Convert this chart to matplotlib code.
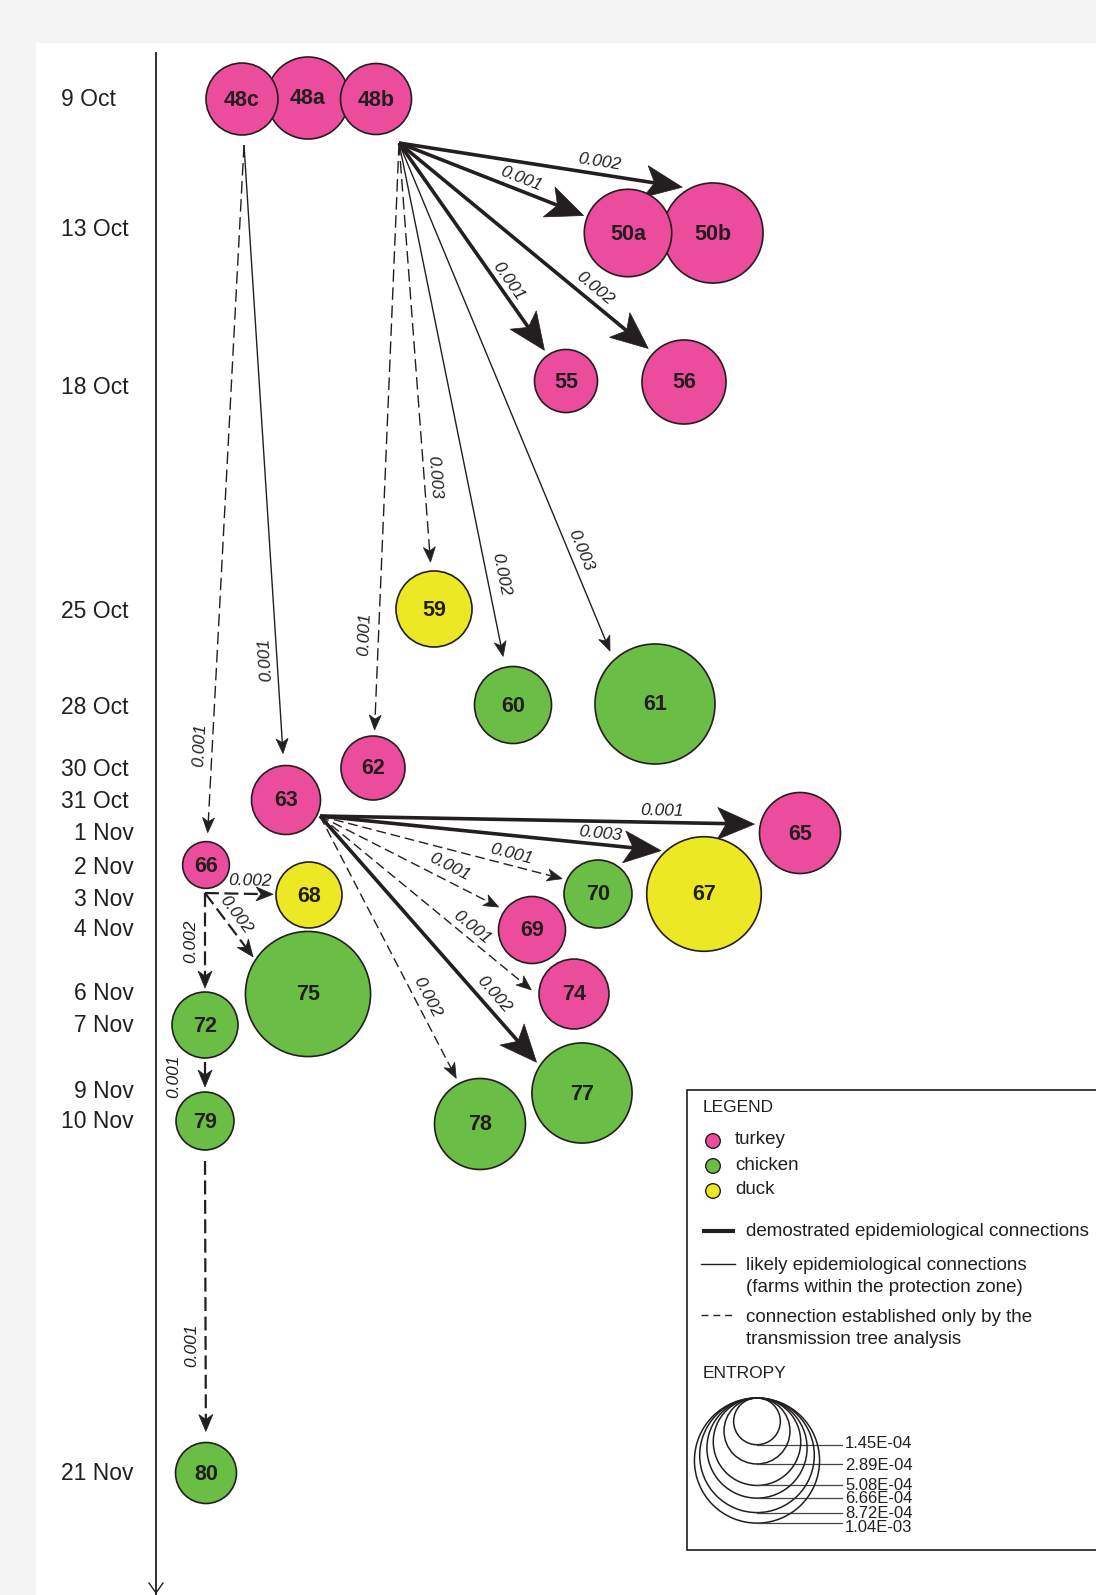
import numpy as np
import matplotlib
matplotlib.use("Agg")
import matplotlib.pyplot as plt
from matplotlib.patches import Circle, Polygon, Rectangle
from matplotlib import font_manager

plt.rcParams['font.family'] = ['Liberation Sans', 'DejaVu Sans']
plt.rcParams['lines.scale_dashes'] = False

W, H = 1096, 1595
INK = '#231f20'

# ---- data -------------------------------------------------------------
dates = ["9 Oct", "13 Oct", "18 Oct", "25 Oct", "28 Oct", "30 Oct", "31 Oct",
         "1 Nov", "2 Nov", "3 Nov", "4 Nov", "6 Nov", "7 Nov", "9 Nov",
         "10 Nov", "21 Nov"]

farms = ["48c", "48a", "48b", "50a", "50b", "55", "56", "59", "60", "61",
         "62", "63", "65", "66", "67", "68", "69", "70", "72", "74", "75",
         "77", "78", "79", "80"]
species = ["turkey", "turkey", "turkey", "turkey", "turkey", "turkey", "turkey",
           "duck", "chicken", "chicken", "turkey", "turkey", "turkey", "turkey",
           "duck", "duck", "turkey", "chicken", "chicken", "turkey", "chicken",
           "chicken", "chicken", "chicken", "chicken"]
entropy = [3.44e-4, 4.47e-4, 3.35e-4, 5.08e-4, 6.66e-4, 2.64e-4, 4.69e-4,
           3.84e-4, 3.94e-4, 9.57e-4, 2.72e-4, 3.16e-4, 4.36e-4, 1.45e-4,
           8.72e-4, 2.89e-4, 2.98e-4, 3.07e-4, 2.89e-4, 3.25e-4, 1.04e-3,
           6.66e-4, 5.50e-4, 2.23e-4, 2.47e-4]

# (from, to, rate, connection type)
edges = [
    ("48b", "50b", "0.002", "demonstrated"),
    ("48b", "50a", "0.001", "demonstrated"),
    ("48b", "55", "0.001", "demonstrated"),
    ("48b", "56", "0.002", "demonstrated"),
    ("48b", "59", "0.003", "tree"),
    ("48b", "60", "0.002", "likely"),
    ("48b", "61", "0.003", "likely"),
    ("48b", "62", "0.001", "tree"),
    ("48c", "63", "0.001", "likely"),
    ("48c", "66", "0.001", "tree"),
    ("63", "65", "0.001", "demonstrated"),
    ("63", "67", "0.003", "demonstrated"),
    ("63", "70", "0.001", "tree"),
    ("63", "69", "0.001", "tree"),
    ("63", "74", "0.001", "tree"),
    ("63", "77", "0.002", "demonstrated"),
    ("63", "78", "0.002", "tree"),
    ("66", "68", "0.002", "tree"),
    ("66", "75", "0.002", "tree"),
    ("66", "72", "0.002", "tree"),
    ("72", "79", "0.001", "tree"),
    ("79", "80", "0.001", "tree"),
]

entropy_scale = [1.45e-4, 2.89e-4, 5.08e-4, 6.66e-4, 8.72e-4, 1.04e-3]
species_names = ["turkey", "chicken", "duck"]

# ---- layout (pixels, y downwards) --------------------------------------
date_y = [100, 229, 388, 612, 707, 770, 802, 834, 867, 899, 930, 994, 1026,
          1091, 1122, 1474]
date_x = [61, 61, 61, 61, 61, 61, 61, 74, 74, 74, 74, 74, 74, 74, 61, 61]

node_xy = {
    "48c": (242, 99), "48a": (308, 98), "48b": (376, 99),
    "50a": (628, 233), "50b": (713, 233), "55": (566, 381), "56": (684, 382),
    "59": (434, 609), "60": (513, 705), "61": (655, 704), "62": (373, 768),
    "63": (286, 800), "65": (800, 833), "66": (206, 865), "67": (704, 894),
    "68": (309, 895), "69": (532, 930), "70": (598, 894), "72": (205, 1025),
    "74": (574, 994), "75": (308, 994), "77": (582, 1093), "78": (480, 1124),
    "79": (205, 1121), "80": (206, 1473),
}
# where the arrows of each farm leave from
anchor = {"48b": (399, 143), "48c": (244, 145), "63": (320, 816),
          "66": (205, 893), "72": (205, 1062), "79": (205, 1161)}
# aim offset from target centre, gap before circle, label position t, label offset
edge_geom = {
    ("48b", "50b"): ((0, -41), 8, 0.70, 12),
    ("48b", "50a"): ((0, 0), 4, 0.64, 11),
    ("48b", "55"): ((0, 0), 6, 0.695, 10),
    ("48b", "56"): ((0, -4), 7, 0.755, 12.5),
    ("48b", "59"): ((0, 0), 9, 0.80, 10),
    ("48b", "60"): ((0, 0), 11, 0.846, 14),
    ("48b", "61"): ((-23, 0), 10, 0.81, 12),
    ("48b", "62"): ((0, 0), 6, 0.837, -14),
    ("48c", "63"): ((0, 0), 12, 0.845, -12),
    ("48c", "66"): ((0, 0), 9, 0.874, -12),
    ("63", "65"): ((0, -8), 6, 0.786, 11.5),
    ("63", "67"): ((0, -39), 5, 0.818, 11),
    ("63", "70"): ((0, -6), 5, 0.78, 11),
    ("63", "69"): ((0, -6), 7, 0.69, 13),
    ("63", "74"): ((0, 31), 10, 0.687, 11),
    ("63", "77"): ((0, 21), 5, 0.76, 13),
    ("63", "78"): ((0, 0), 6, 0.712, 12),
    ("66", "68"): ((0, 0), 3, 0.66, 13),
    ("66", "75"): ((0, 36), 4, 0.445, 12),
    ("66", "72"): ((0, 0), 4, 0.51, -14),
    ("72", "79"): ((0, 0), 5, 0.58, -31),
    ("79", "80"): ((0, 0), 11, 0.68, -14),
}
# rate labels that read bottom-to-top even though the line leans right
read_up = {("48c", "63"), ("79", "80")}

colors = {"turkey": "#ec4c9c", "chicken": "#6abd45", "duck": "#ede824"}
heavy_sources = {"66", "72", "79"}
long_dash_sources = {"48b", "48c"}


def radius(e):
    # circle area proportional to entropy
    return 1940 * np.sqrt(e)


names = {f.name for f in font_manager.fontManager.ttflist}
if "Liberation Sans Narrow" in names:
    date_font, date_size = "Liberation Sans Narrow", 19
else:
    date_font, date_size = "Liberation Sans", 16.5

fig = plt.figure(figsize=(W / 100, H / 100), dpi=100, facecolor='#f4f4f4')
ax = fig.add_axes([0, 0, 1, 1])
ax.set_xlim(0, W)
ax.set_ylim(H, 0)
ax.set_aspect('equal')
ax.axis('off')

ax.add_patch(Rectangle((36, 43), W, H, facecolor='white', edgecolor='none', zorder=0))

# time axis
ax.plot([156, 156], [53, H + 5], color=INK, lw=1.3, zorder=1)
ax.plot([149, 156, 163], [1583, 1593, 1583], color=INK, lw=1.0, zorder=1)
for lab, x, y in zip(dates, date_x, date_y):
    ax.text(x, y, lab, ha='left', va='center', fontsize=date_size,
            family=date_font, color=INK)

rad = {f: radius(e) for f, e in zip(farms, entropy)}
spc = dict(zip(farms, species))


def arrow_head(tip, u, length, half_w, notch):
    n = np.array([-u[1], u[0]])
    pts = [tip, tip - length * u + half_w * n, tip - (length - notch) * u,
           tip - length * u - half_w * n]
    ax.add_patch(Polygon(pts, closed=True, facecolor=INK, edgecolor=INK,
                         lw=0.5, zorder=3))


for src, dst, rate, kind in edges:
    aim, gap, t, off = edge_geom[(src, dst)]
    S = np.array(anchor[src], dtype=float)
    C = np.array(node_xy[dst], dtype=float)
    A = C + np.array(aim, dtype=float)
    u = (A - S) / np.linalg.norm(A - S)
    rel = S - C
    b = u @ rel
    c = rel @ rel - rad[dst] ** 2
    s = -b - np.sqrt(max(b * b - c, 0.0))
    T = S + (s - gap) * u

    if kind == "demonstrated":
        lw, ls, head = 2.6, '-', (37, 16, 9)
    elif kind == "likely":
        lw, ls, head = 1.0, '-', (15, 6, 4)
    elif src in heavy_sources:
        lw, ls, head = 1.6, (0, (10, 4)), (17, 7, 5)
    elif src in long_dash_sources:
        lw, ls, head = 1.0, (0, (9, 4)), (15, 6, 4)
    else:
        lw, ls, head = 1.0, (0, (7, 3.5)), (15, 6, 4)

    end = T - (head[0] - head[2]) * u
    ax.plot([S[0], end[0]], [S[1], end[1]], color=INK, lw=lw, ls=ls,
            solid_capstyle='butt', dash_capstyle='butt', zorder=2)
    arrow_head(T, u, *head)

    left = np.array([u[1], -u[0]])
    P = S + t * (T - S) + off * left
    ang = np.degrees(np.arctan2(-(T[1] - S[1]), T[0] - S[0]))
    if ang > 90:
        ang -= 180
    if ang <= -90:
        ang += 180
    if ang < 0 and (src, dst) in read_up:
        ang += 180
    ax.text(P[0], P[1], rate, ha='center', va='center', rotation=ang,
            rotation_mode='anchor', fontsize=12.5, style='italic', color=INK,
            zorder=4)

# farms, 48a sits under its neighbours and 50a over 50b
front = ("48a", "48c", "48b", "50b", "50a")
order = list(front) + [f for f in farms if f not in front]
for z, f in enumerate(order):
    x, y = node_xy[f]
    ax.add_patch(Circle((x, y), rad[f], facecolor=colors[spc[f]], edgecolor=INK,
                        lw=1.2, zorder=5 + z * 0.01))
    ax.text(x, y + 1, f, ha='center', va='center', fontsize=15.5, fontweight='bold',
            color=INK, zorder=6)

# legend box
ax.add_patch(Rectangle((687, 1090), 420, 460, facecolor='white', edgecolor=INK,
                       lw=1.2, zorder=7))
ax.text(703, 1108, "LEGEND", ha='left', va='center', fontsize=12.5, color=INK, zorder=8)
for i, sp in enumerate(species_names):
    y = 1141 + 25 * i
    ax.add_patch(Circle((713, y), 7.3, facecolor=colors[sp], edgecolor=INK,
                        lw=1.0, zorder=8))
    ax.text(735, y - 1, sp, ha='left', va='center', fontsize=13.5, color=INK, zorder=8)

ax.plot([702, 735], [1231, 1231], color=INK, lw=3.0, solid_capstyle='butt', zorder=8)
ax.text(746, 1232, "demostrated epidemiological connections", ha='left',
        va='center', fontsize=13.5, color=INK, zorder=8)
ax.plot([701, 735], [1264, 1264], color=INK, lw=1.0, zorder=8)
ax.text(746, 1265, "likely epidemiological connections", ha='left',
        va='center', fontsize=13.5, color=INK, zorder=8)
ax.text(746, 1287, "(farms within the protection zone)", ha='left',
        va='center', fontsize=13.5, color=INK, zorder=8)
ax.plot([701, 735], [1315, 1315], color=INK, lw=1.0, ls=(0, (5, 3.5)),
        dash_capstyle='butt', zorder=8)
ax.text(746, 1317, "connection established only by the", ha='left',
        va='center', fontsize=13.5, color=INK, zorder=8)
ax.text(746, 1339, "transmission tree analysis", ha='left',
        va='center', fontsize=13.5, color=INK, zorder=8)

ax.text(703, 1373, "ENTROPY", ha='left', va='center', fontsize=12.5, color=INK, zorder=8)
top = 1398
label_y = [1443, 1465, 1485, 1498.5, 1513, 1527]
for e, ly in zip(entropy_scale, label_y):
    r = radius(e)
    ax.add_patch(Circle((757, top + r), r, facecolor='none', edgecolor=INK,
                        lw=1.1, zorder=8))
    ax.plot([757, 842], [top + 2 * r, top + 2 * r], color='#444444', lw=0.9, zorder=8)
    ax.text(845, ly, f"{e:.2E}", ha='left', va='center',
            fontsize=12, color=INK, zorder=9)

fig.savefig("out.png", dpi=100, facecolor=fig.get_facecolor())
